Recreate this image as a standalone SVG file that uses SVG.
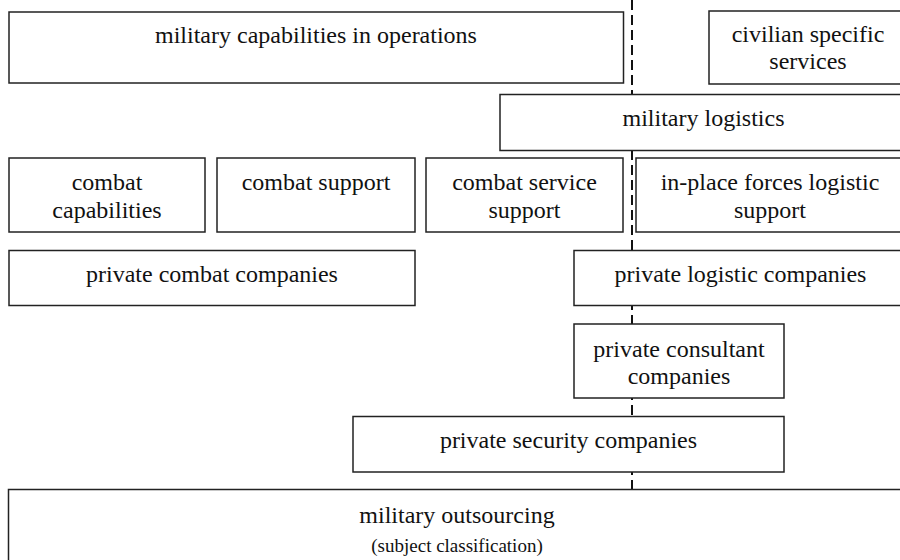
<svg xmlns="http://www.w3.org/2000/svg" width="900" height="560" viewBox="0 0 900 560">
<style>
.box{fill:#fff;stroke:#222;stroke-width:1.5}
.t{font-family:"Liberation Serif","Times New Roman",serif;font-size:24px;fill:#111;text-anchor:middle}
.s{font-size:19px}
.dash{stroke:#111;stroke-width:2;stroke-dasharray:10 5;fill:none}
</style>
<rect width="900" height="560" fill="#fff"/>
<g id="connectors">
<line class="dash" x1="632" y1="0" x2="632" y2="490"/>
</g>
<g id="mil_ops"><rect class="box" x="9" y="12" width="614.5" height="71"/><text class="t" x="316" y="42.5">military capabilities in operations</text></g>
<g id="civilian"><rect class="box" x="709" y="11" width="200" height="73"/><text class="t" x="808" y="42">civilian specific</text><text class="t" x="808" y="69">services</text></g>
<g id="mil_log"><rect class="box" x="500" y="94.5" width="410" height="56"/><text class="t" x="703.5" y="126">military logistics</text></g>
<g id="combat_cap"><rect class="box" x="9" y="158" width="196" height="74"/><text class="t" x="107" y="190">combat</text><text class="t" x="107" y="218">capabilities</text></g>
<g id="combat_support"><rect class="box" x="217" y="158" width="198" height="74"/><text class="t" x="316" y="190">combat support</text></g>
<g id="css"><rect class="box" x="426" y="158" width="197" height="74"/><text class="t" x="524.5" y="190">combat service</text><text class="t" x="524.5" y="218">support</text></g>
<g id="inplace"><rect class="box" x="636" y="158" width="274" height="74"/><text class="t" x="770" y="190">in-place forces logistic</text><text class="t" x="770" y="218">support</text></g>
<g id="pcc"><rect class="box" x="9" y="250.5" width="406" height="55"/><text class="t" x="212" y="282">private combat companies</text></g>
<g id="plc"><rect class="box" x="574" y="250.5" width="340" height="55"/><text class="t" x="740.5" y="282">private logistic companies</text></g>
<g id="consultant"><rect class="box" x="574" y="324" width="210" height="74"/><text class="t" x="679" y="357">private consultant</text><text class="t" x="679" y="384">companies</text></g>
<g id="security"><rect class="box" x="353" y="416.5" width="431" height="55.5"/><text class="t" x="568.5" y="448">private security companies</text></g>
<g id="outsourcing"><rect class="box" x="8.5" y="489.5" width="900" height="80"/><text class="t" x="457" y="523">military outsourcing</text><text class="t s" x="457" y="552">(subject classification)</text></g>
</svg>
